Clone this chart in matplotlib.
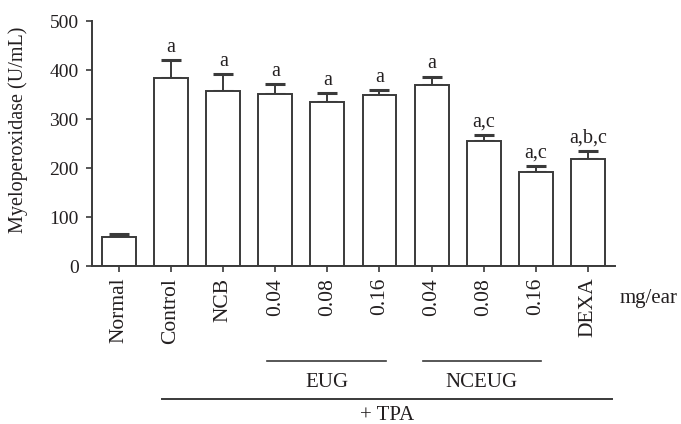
import matplotlib
matplotlib.use("Agg")
import matplotlib.pyplot as plt
import matplotlib.transforms as mtransforms

# data
groups = ["Normal", "Control", "NCB", "0.04", "0.08", "0.16", "0.04", "0.08", "0.16", "DEXA"]
mpo = [60, 385, 357, 351, 335, 350, 369, 255, 192, 219]
sem = [5, 35, 35, 20, 18, 9, 18, 12, 12, 16]
letters = ["", "a", "a", "a", "a", "a", "a", "a,c", "a,c", "a,b,c"]

ink = "#231f20"
edge = "#3a3a3a"

plt.rcParams['font.family'] = ['Liberation Serif', 'DejaVu Serif']
plt.rcParams['font.size'] = 14

fig = plt.figure(figsize=(6.81, 4.24), dpi=100)
ax = fig.add_axes([0.135, 0.3726, 0.768, 0.5774])

x = list(range(len(groups)))
ax.bar(x, mpo, width=0.65, color="white", edgecolor=edge, linewidth=1.4, zorder=2)
ax.errorbar(x, mpo, yerr=[[0] * len(sem), sem], fmt="none", ecolor=edge,
            elinewidth=1.4, capsize=7, capthick=2.2, zorder=1)

# significance letters
for xi, v, e, s in zip(x, mpo, sem, letters):
    if s:
        ax.annotate(s, (xi, v + e), xytext=(0, 6), textcoords="offset points",
                    ha="center", va="baseline", color=ink, fontsize=14.5)

ax.set_xlim(-0.52, 9.52)
ax.set_ylim(0, 500)
ax.set_yticks([0, 100, 200, 300, 400, 500])
ax.set_xticks(x)
ax.set_xticklabels(groups, rotation=90, va="top", fontsize=15.5)
ax.set_ylabel("Myeloperoxidase (U/mL)", color=ink, fontsize=14.5)
ax.yaxis.set_label_coords(-0.122, 0.555)

for side in ["top", "right"]:
    ax.spines[side].set_visible(False)
for side in ["left", "bottom"]:
    ax.spines[side].set_color(edge)
    ax.spines[side].set_linewidth(1.4)
ax.tick_params(direction="out", length=4.5, width=1.2, color=edge,
               labelcolor=ink, labelsize=14, pad=5)
ax.tick_params(axis="x", labelsize=15.5, pad=4)

# group brackets below the axis
tr = mtransforms.blended_transform_factory(ax.transData, fig.transFigure)
for x0, x1, name in [(2.85, 5.13, "EUG"), (5.83, 8.1, "NCEUG")]:
    ax.plot([x0, x1], [0.1486, 0.1486], color=edge, lw=1.2, transform=tr, clip_on=False)
    ax.text((x0 + x1) / 2, 0.097, name, transform=tr, ha="center", va="center",
            color=ink, fontsize=15)
ax.plot([0.82, 9.46], [0.059, 0.059], color=edge, lw=1.4, transform=tr, clip_on=False)
ax.text(5.14, 0.02, "+ TPA", transform=tr, ha="center", va="center", color=ink, fontsize=15)

fig.text(0.91, 0.295, "mg/ear", ha="left", va="center", color=ink, fontsize=15)

fig.savefig("out.png", dpi=100)
